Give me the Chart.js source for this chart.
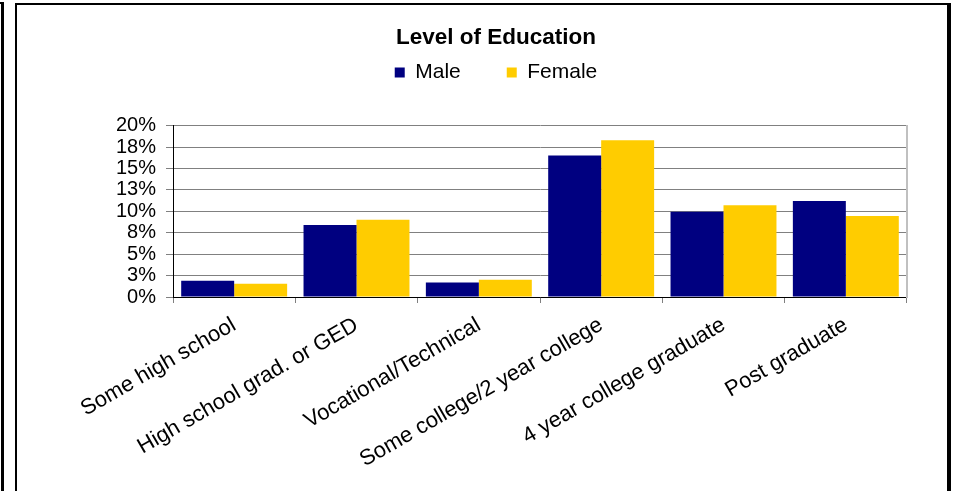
<!DOCTYPE html>
<html>
<head>
<meta charset="utf-8">
<script src="https://cdn.jsdelivr.net/npm/chart.js@4.4.1/dist/chart.umd.min.js"></script>
<style>
  body { margin: 0; background: #fff; }
  #wrap { position: relative; width: 956px; height: 491px; overflow: hidden; }
  .frame { position: absolute; border: 2px solid #000; box-sizing: border-box; }
  #chart { position: absolute; left: 0; top: 0; }
</style>
</head>
<body>
<div id="wrap">
  <!-- edge of the neighbouring box on the left -->
  <div class="frame" style="left:-20px; top:2px; width:24px; height:520px; border-right-width:3px;"></div>
  <!-- chart frame -->
  <div class="frame" style="left:15px; top:3px; width:936px; height:520px; border-right-width:4px;"></div>
  <canvas id="chart" width="956" height="491"></canvas>
</div>
<script>
// categories and values (fractions, axis shows percent)
const categories = ['Some high school', 'High school grad. or GED', 'Vocational/Technical',
                    'Some college/2 year college', '4 year college graduate', 'Post graduate'];
const maleValues = [0.019, 0.084, 0.017, 0.165, 0.0995, 0.112];
const femaleValues = [0.0155, 0.090, 0.020, 0.183, 0.107, 0.0945];
const yTicks = [0, 0.025, 0.05, 0.075, 0.1, 0.125, 0.15, 0.175, 0.2];

const font = 'Arial, "Liberation Sans", sans-serif';
Chart.defaults.font.family = font;
Chart.defaults.color = '#000';

const navy = '#000080';
const gold = '#FFCC00';

new Chart(document.getElementById('chart'), {
    type: 'bar',
    data: {
        labels: categories,
        datasets: [
            { label: 'Male', data: maleValues, backgroundColor: navy, borderColor: navy, borderWidth: 0 },
            { label: 'Female', data: femaleValues, backgroundColor: gold, borderColor: gold, borderWidth: 0 }
        ]
    },
    options: {
        responsive: false,
        devicePixelRatio: 1,
        animation: false,
        layout: { padding: { left: 85, right: 49, top: 0, bottom: 0 } },
        datasets: {
            bar: { categoryPercentage: 0.866, barPercentage: 1.0 }
        },
        plugins: {
            title: {
                display: true,
                text: 'Level of Education',
                font: { size: 22.5, weight: 'bold' },
                color: '#000',
                // negative bottom so the wide legend padding can sit close under it
                padding: { top: 24, bottom: -35 }
            },
            legend: {
                position: 'top',
                labels: {
                    boxWidth: 10,
                    boxHeight: 10,
                    padding: 46,
                    font: { size: 21 },
                    color: '#000'
                }
            },
            tooltip: { enabled: false }
        },
        scales: {
            x: {
                position: 'bottom',
                grid: { display: true, drawOnChartArea: false, drawTicks: true, tickLength: 6, color: '#808080', offset: true },
                border: { display: true, color: '#000', width: 1 },
                ticks: { autoSkip: false, minRotation: 30, maxRotation: 30, font: { size: 22 }, color: '#000', padding: 9 },
                afterFit: (s) => { s.height = 194; }
            },
            // spacer between legend and plot area
            xTop: {
                type: 'category',
                position: 'top',
                grid: { display: false },
                border: { display: false },
                ticks: { display: false },
                afterFit: (s) => { s.height = 32.6; }
            },
            y: {
                min: 0,
                max: 0.2,
                grid: { color: '#808080', tickLength: 7, tickColor: '#808080' },
                border: { display: true, color: '#000', width: 1 },
                afterBuildTicks: (s) => { s.ticks = yTicks.map(v => ({ value: v })); },
                ticks: {
                    autoSkip: false,
                    padding: 10,
                    font: { size: 20 },
                    color: '#000',
                    callback: (v) => Math.round(Math.round(v * 1000) / 10) + '%'
                },
                afterFit: (s) => { s.width = 88; }
            },
            // gives the plot area its light grey right edge
            yRight: {
                type: 'linear',
                position: 'right',
                grid: { display: false },
                border: { display: true, color: '#c0c0c0', width: 2 },
                ticks: { display: false },
                afterFit: (s) => { s.width = 0; }
            }
        }
    }
});
</script>
</body>
</html>
